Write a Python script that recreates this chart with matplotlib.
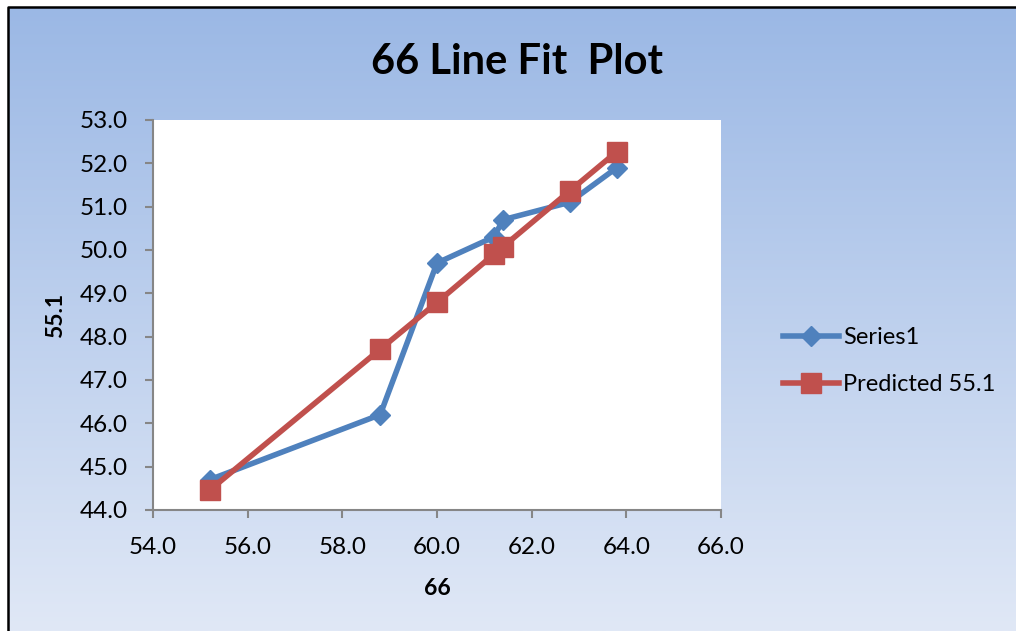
import numpy as np
import matplotlib
matplotlib.use("Agg")
import matplotlib.pyplot as plt
from matplotlib.lines import Line2D

# ---- data ----
x_vals = [55.2, 58.8, 60.0, 61.2, 61.4, 62.8, 63.8]
series1 = [44.7, 46.2, 49.7, 50.3, 50.7, 51.1, 51.9]
predicted = [44.46, 47.71, 48.79, 49.90, 50.08, 51.36, 52.27]
x_ticks = [54.0, 56.0, 58.0, 60.0, 62.0, 64.0, 66.0]
y_ticks = [44.0, 45.0, 46.0, 47.0, 48.0, 49.0, 50.0, 51.0, 52.0, 53.0]
title = "66 Line Fit  Plot"
x_label = "66"
y_label = "55.1"
legend_labels = ["Series1", "Predicted 55.1"]

W, H = 1016, 631
plt.rcParams['font.family'] = ['Lato', 'DejaVu Sans']

fig = plt.figure(figsize=(W / 100, H / 100), dpi=100)
fig.patch.set_facecolor('white')

# background gradient chart area
bx0 = 8 / W
by1 = 1 - 7 / H
bg = fig.add_axes([bx0, 0, 1 - bx0, by1], zorder=0)
top = np.array([155, 184, 229]) / 255
bot = np.array([224, 232, 246]) / 255
t = np.linspace(0, 1, 256)[:, None]
grad = top[None, :] * (1 - t) + bot[None, :] * t
bg.imshow(grad[:, None, :], aspect='auto', extent=[0, 1, 0, 1], origin='upper')
bg.set_axis_off()

# border
fig.add_artist(Line2D([bx0, bx0, 1.0], [0, by1, by1], transform=fig.transFigure,
                      color='black', lw=1.8, zorder=5))

ax = fig.add_axes([153 / W, 1 - 510 / H, (721 - 153) / W, (510 - 120) / H], zorder=2)
ax.set_facecolor('white')
l1, = ax.plot(x_vals, series1, color='#4F81BD', lw=4, marker='D', ms=10.5,
              label=legend_labels[0], zorder=3)
l2, = ax.plot(x_vals, predicted, color='#C0504D', lw=4, marker='s', ms=14,
              label=legend_labels[1], zorder=4)
ax.set_xlim(54, 66)
ax.set_ylim(44, 53)
ax.set_xticks(x_ticks)
ax.set_yticks(y_ticks)
ax.set_xticklabels([f"{v:.1f}" for v in x_ticks])
ax.set_yticklabels([f"{v:.1f}" for v in y_ticks])
for s in ['top', 'right']:
    ax.spines[s].set_visible(False)
for s in ['left', 'bottom']:
    ax.spines[s].set_color('#868686')
    ax.spines[s].set_linewidth(1.5)
ax.tick_params(direction='out', length=6, width=1.5, color='#868686',
               labelsize=17.5, labelcolor='black')
ax.tick_params(axis='x', pad=13.5)
ax.tick_params(axis='y', pad=12)
ax.set_xlabel(x_label, fontsize=16.5, fontweight='bold', labelpad=14)
ax.set_ylabel(y_label, fontsize=16.5, fontweight='bold', labelpad=10)

fig.text(517 / W, 1 - 62 / H, title, ha='center', va='center',
         fontsize=30, fontweight='bold')

leg = fig.legend(handles=[l1, l2], labels=legend_labels, loc='center left',
                 bbox_to_anchor=(762 / W, 1 - 361 / H), frameon=False,
                 fontsize=17, handlelength=2.37, handletextpad=0.15,
                 labelspacing=1.1)

fig.savefig('out.png', dpi=100)
